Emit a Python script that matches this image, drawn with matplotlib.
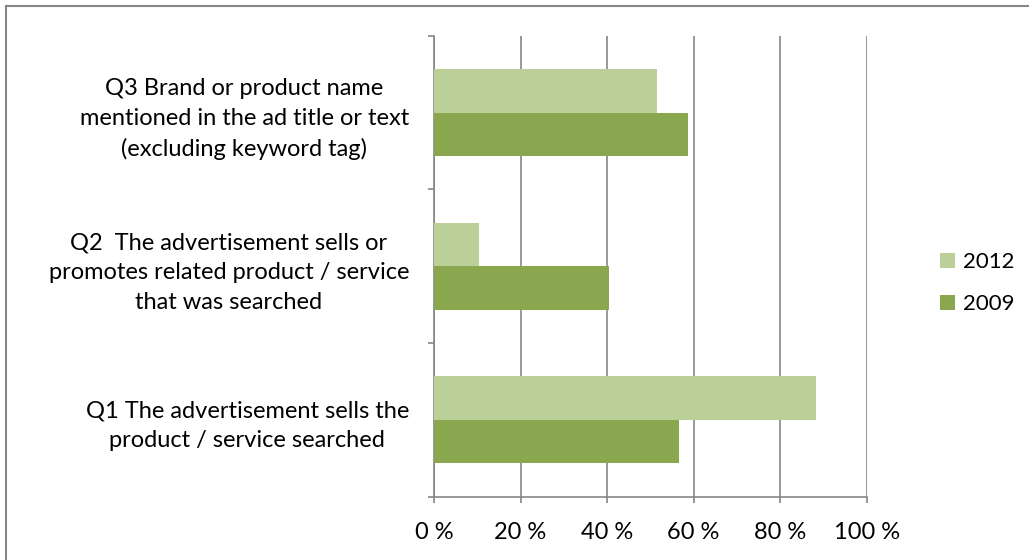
import numpy as np
import matplotlib.pyplot as plt
from matplotlib.patches import Rectangle

# 資料
categories = ['Q1 The advertisement sells the\nproduct / service searched',
              'Q2  The advertisement sells or\npromotes related product / service\nthat was searched',
              'Q3 Brand or product name\nmentioned in the ad title or text\n(excluding keyword tag)']
vals_2012 = [88.3, 10.3, 51.5]
vals_2009 = [56.5, 40.5, 58.7]
xticks = [0, 20, 40, 60, 80, 100]
xtick_labels = ['0 %', '20 %', '40 %', '60 %', '80 %', '100 %']

plt.rcParams['font.family'] = ['Lato', 'DejaVu Sans']
fs = 17

fig = plt.figure(figsize=(10.29, 5.6), dpi=100)
ax = fig.add_axes([0.4218, 0.113, 0.4205, 0.823])

y = np.arange(len(categories))
h = 0.283
ax.barh(y + h / 2, vals_2012, height=h, color='#BBCF99', label='2012', zorder=3)
ax.barh(y - h / 2, vals_2009, height=h, color='#8AA64F', label='2009', zorder=3)

ax.set_xlim(0, 100)
ax.set_ylim(-0.5, 2.5)
ax.set_xticks(xticks)
ax.set_xticklabels(xtick_labels, fontsize=fs)
ax.set_yticks(y)
ax.set_yticklabels(categories, fontsize=fs)
for lab in ax.get_yticklabels():
    lab.set_multialignment('center')
    lab.set_linespacing(1.5)
ax.set_yticks([-0.5, 0.5, 1.5, 2.5], minor=True)
ax.tick_params(axis='y', which='major', length=0, pad=18)
ax.tick_params(axis='y', which='minor', length=4, color='#868686', width=1.2)
ax.tick_params(axis='x', length=4, color='#868686', width=1.2, pad=14)

ax.grid(axis='x', color='#868686', linewidth=1.2, zorder=0)
for side in ['top', 'right']:
    ax.spines[side].set_visible(False)
for side in ['left', 'bottom']:
    ax.spines[side].set_color('#868686')
    ax.spines[side].set_linewidth(1.2)

ax.legend(loc='center left', bbox_to_anchor=(1.124, 0.463), frameon=False,
          fontsize=16, handlelength=0.65, handleheight=0.65, handletextpad=0.35,
          labelspacing=1.0)

# 外框
fig.patches.append(Rectangle((6 / 1029, -0.1), 1.2, 1.089, transform=fig.transFigure,
                             fill=False, edgecolor='#868686', linewidth=1.5))

fig.savefig('out.png', dpi=100)
